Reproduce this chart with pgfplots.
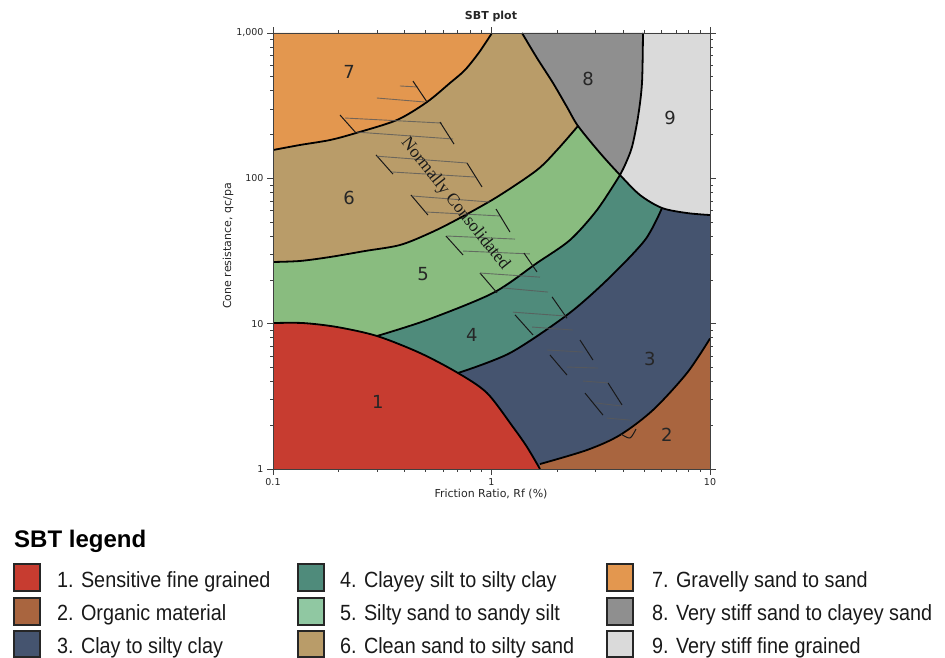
\documentclass[border=0pt]{standalone}
\usepackage{pgfplots}
\pgfplotsset{compat=1.18}
\usepackage{fontspec}
\setmainfont{DejaVu Sans}
\newfontfamily\legfont{Liberation Sans}[FakeStretch=0.9]
\newfontfamily\headfont{Liberation Sans}
\newfontfamily\serfont{Liberation Serif}

\definecolor{z1}{HTML}{C73C30}
\definecolor{z2}{HTML}{A9653F}
\definecolor{z3}{HTML}{45546F}
\definecolor{z4}{HTML}{4F8B7B}
\definecolor{z5}{HTML}{89BC7F}
\definecolor{z5l}{HTML}{90C8A2}
\definecolor{z6}{HTML}{B99C69}
\definecolor{z7}{HTML}{E3974F}
\definecolor{z8}{HTML}{8F8F8F}
\definecolor{z9}{HTML}{DADADA}

\pgfplotsset{
  bnd/.style={black, line width=1.8pt, smooth},
  hh/.style={draw=black!65, opacity=0.8, line width=0.9pt},
  hd/.style={draw=black!90, line width=1pt},
}

\begin{document}
\begin{tikzpicture}
\path[use as bounding box] (0pt,0pt) rectangle (945pt,-658pt);
\begin{axis}[
  at={(273pt,-469pt)}, anchor=south west,
  scale only axis, width=437pt, height=436pt,
  xmode=log, ymode=log,
  xmin=0.1, xmax=10, ymin=1, ymax=1000,
  xtick={0.1,1,10}, xticklabels={0.1,1,10},
  ytick={1,10,100,1000}, yticklabels={1,10,100,{1,000}},
  minor xtick={0.2,0.3,0.4,0.5,0.6,0.7,0.8,0.9,2,3,4,5,6,7,8,9},
  minor ytick={2,3,4,5,6,7,8,9,20,30,40,50,60,70,80,90,200,300,400,500,600,700,800,900},
  tick align=outside,
  major tick length=6pt, minor tick length=3pt,
  tick style={black!75, line width=0.7pt},
  axis line style={black!75, line width=0.8pt},
  ticklabel style={font=\fontsize{9.5}{11}\selectfont, text=black!85},
  /pgf/number format/assume math mode=true,
  axis on top,
  no markers,
]
% ---- fills (painter order)
\addplot[fill=z6, draw=none] coordinates {(0.1,1)(10,1)(10,1000)(0.1,1000)};
\addplot[fill=z7, draw=none] coordinates {(0.1,156.6)(0.1329,169.6)(0.1824,183.5)(0.2398,205.0)(0.3694,252.0)(0.5068,335.1)(0.6457,452.9)(0.7563,556.5)(0.8800,740)(1.005,1000)(0.1,1000)};
\addplot[fill=z5, draw=none] coordinates {(0.1,26.57)(0.1329,27.0)(0.1824,28.75)(0.2637,31.62)(0.3813,34.77)(0.5232,42.05)(0.7026,52.5)(1.0597,74.4)(1.6151,114.1)(2.015,159.2)(2.488,229.2)(10,229.2)(10,1)(0.1,1)};
\addplot[fill=z4, draw=none] coordinates {(0.2992,8.225)(0.5068,10.6)(1.016,16.26)(1.6151,26.15)(2.287,37.64)(3.040,60.55)(3.874,105.4)(10,105.4)(10,1)(0.2992,1)};
\addplot[fill=z3, draw=none] coordinates {(0.7026,4.576)(1.215,6.283)(2.2155,11.47)(3.378,19.97)(5.04,37.64)(6.03,62.5)(10,62.5)(10,1)(0.7026,1)};
\addplot[fill=z2, draw=none] coordinates {(1.667,1.082)(2.736,1.351)(3.874,1.713)(5.484,2.546)(7.847,4.576)(10,7.9)(10,1)(1.667,1)};
\addplot[fill=z1, draw=none] coordinates {(0.1,10.1)(0.1372,10.1)(0.1963,9.484)(0.2992,8.225)(0.4709,6.283)(0.7026,4.576)(0.9537,3.334)(1.254,1.945)(1.454,1.417)(1.667,1)(0.1,1)};
\addplot[fill=z9, draw=none] coordinates {(1.379,1000)(1.6151,673)(1.912,452.9)(2.2155,309.6)(2.488,229.2)(3.138,149.4)(3.874,105.4)(4.781,76.8)(6.03,62.5)(7.847,57.7)(10,55.9)(10,1000)};
\addplot[fill=z8, draw=none] coordinates {(1.379,1000)(1.6151,673)(1.912,452.9)(2.2155,309.6)(2.488,229.2)(3.138,149.4)(3.874,105.4)(4.083,123.5)(4.395,164.3)(4.683,264.2)(4.884,452.9)(4.935,1000)};
% ---- boundaries
\addplot[bnd] coordinates {(0.1,156.6)(0.1329,169.6)(0.1824,183.5)(0.2398,205.0)(0.3694,252.0)(0.5068,335.1)(0.6457,452.9)(0.7563,556.5)(0.8800,740)(1.005,1000)};
\addplot[bnd] coordinates {(0.1,26.57)(0.1329,27.0)(0.1824,28.75)(0.2637,31.62)(0.3813,34.77)(0.5232,42.05)(0.7026,52.5)(1.0597,74.4)(1.6151,114.1)(2.015,159.2)(2.488,229.2)};
\addplot[bnd] coordinates {(1.379,1000)(1.6151,673)(1.912,452.9)(2.2155,309.6)(2.488,229.2)(3.138,149.4)(3.874,105.4)(4.781,76.8)(6.03,62.5)(7.847,57.7)(10,55.9)};
\addplot[bnd] coordinates {(4.935,1000)(4.884,452.9)(4.683,264.2)(4.395,164.3)(4.083,123.5)(3.874,105.4)};
\addplot[bnd] coordinates {(0.2992,8.225)(0.5068,10.6)(1.016,16.26)(1.6151,26.15)(2.287,37.64)(3.040,60.55)(3.874,105.4)};
\addplot[bnd] coordinates {(0.7026,4.576)(1.215,6.283)(2.2155,11.47)(3.378,19.97)(5.04,37.64)(6.03,62.5)};
\addplot[bnd] coordinates {(0.1,10.1)(0.1372,10.1)(0.1963,9.484)(0.2992,8.225)(0.4709,6.283)(0.7026,4.576)(0.9537,3.334)(1.254,1.945)(1.454,1.417)(1.667,1)};
\addplot[bnd] coordinates {(1.667,1.082)(2.736,1.351)(3.874,1.713)(5.484,2.546)(7.847,4.576)(10,7.9)};
% ---- normally consolidated hatch
\addplot[hh] coordinates {(0.381,432)(0.461,425)};
\addplot[hh] coordinates {(0.299,357)(0.496,335)};
\addplot[hd] coordinates {(0.437,467)(0.507,335)};
\addplot[hd] coordinates {(0.2025,273)(0.240,205)};
\addplot[hh] coordinates {(0.2136,260)(0.593,240)};
\addplot[hh] coordinates {(0.242,208)(0.667,186.5)};
\addplot[hd] coordinates {(0.581,244)(0.674,172)};
\addplot[hd] coordinates {(0.296,145)(0.354,107)};
\addplot[hh] coordinates {(0.299,142)(0.7725,127.5)};
\addplot[hh] coordinates {(0.350,110.6)(0.840,102.1)};
\addplot[hd] coordinates {(0.7725,127.5)(0.905,87.2)};
\addplot[hd] coordinates {(0.428,76.8)(0.512,55.9)};
\addplot[hh] coordinates {(0.433,75.6)(0.984,68.7)};
\addplot[hh] coordinates {(0.496,58.7)(1.094,55.1)};
\addplot[hd] coordinates {(1.049,61.5)(1.215,42.7)};
\addplot[hd] coordinates {(0.619,40.1)(0.741,29.7)};
\addplot[hh] coordinates {(0.625,40.1)(1.281,38.2)};
\addplot[hh] coordinates {(0.741,31.6)(1.500,30.2)};
\addplot[hd] coordinates {(1.408,30.6)(1.615,22.7)};
\addplot[hd] coordinates {(0.886,22.3)(1.060,16.3)};
\addplot[hh] coordinates {(0.886,22.3)(1.667,20.9)};
\addplot[hh] coordinates {(1.129,17.6)(1.814,16.5)};
\addplot[hd] coordinates {(1.892,15.3)(2.216,10.9)};
\addplot[hd] coordinates {(1.281,11.5)(1.549,8.36)};
\addplot[hh] coordinates {(1.254,12.0)(2.170,11.3)};
\addplot[hh] coordinates {(1.533,9.48)(2.361,9.04)};
\addplot[hd] coordinates {(2.541,7.72)(2.914,5.62)};
\addplot[hd] coordinates {(1.852,6.09)(2.216,4.43)};
\addplot[hh] coordinates {(1.795,6.59)(2.623,6.38)};
\addplot[hh] coordinates {(2.216,5.03)(3.072,4.95)};
\addplot[hd] coordinates {(3.414,3.91)(3.957,2.76)};
\addplot[hd] coordinates {(2.679,3.33)(3.238,2.35)};
\addplot[hh] coordinates {(2.623,4.03)(3.414,3.91)};
\addplot[hh] coordinates {(2.976,2.85)(3.957,2.71)};
\addplot[hh] coordinates {(3.378,2.24)(4.304,2.17)};
\addplot[hd, smooth] coordinates {(3.915,1.741)(4.304,1.634)(4.584,1.884)};
% ---- zone numbers
\begin{scope}[every node/.style={font=\fontsize{18}{20}\selectfont, text=black!85}]
\node at (axis cs:0.223,540) {7};
\node at (axis cs:2.765,483) {8};
\node at (axis cs:6.56,260) {9};
\node at (axis cs:0.223,73.3) {6};
\node at (axis cs:0.486,22.0) {5};
\node at (axis cs:0.814,8.36) {4};
\node at (axis cs:5.31,5.72) {3};
\node at (axis cs:0.302,2.89) {1};
\node at (axis cs:6.35,1.71) {2};
\end{scope}
\node[font=\serfont\fontsize{17.5}{19}\selectfont, rotate=-51.5, text=black!90] at (axis cs:0.681,66.6) {Normally Consolidated};
\end{axis}
% ---- titles and labels
\node[font=\bfseries\fontsize{11}{13}\selectfont, text=black!85] at (491pt,-16pt) {SBT plot};
\node[font=\fontsize{11}{13}\selectfont, text=black!85] at (491pt,-494pt) {Friction Ratio, Rf (\%)};
\node[font=\fontsize{11}{13}\selectfont, text=black!85, rotate=90] at (228pt,-246pt) {Cone resistance, qc/pa};
% ---- legend
\node[font=\headfont\bfseries\fontsize{24}{28}\selectfont, anchor=base west, inner sep=0pt] at (14pt,-547pt) {SBT legend};
\begin{scope}[every node/.style={font=\legfont\fontsize{22}{24}\selectfont, anchor=base west, inner sep=0pt, text=black!90}]
\filldraw[fill=z1, draw=black!85, line width=1.4pt] (14pt,-564pt) rectangle (40pt,-591pt);
\node at (57pt,-587pt) {1. Sensitive fine grained};
\filldraw[fill=z2, draw=black!85, line width=1.4pt] (14pt,-598pt) rectangle (40pt,-625pt);
\node at (57pt,-620pt) {2. Organic material};
\filldraw[fill=z3, draw=black!85, line width=1.4pt] (14pt,-631pt) rectangle (40pt,-657pt);
\node at (57pt,-653pt) {3. Clay to silty clay};
\filldraw[fill=z4, draw=black!85, line width=1.4pt] (298pt,-564pt) rectangle (324pt,-591pt);
\node at (340pt,-587pt) {4. Clayey silt to silty clay};
\filldraw[fill=z5l, draw=black!85, line width=1.4pt] (298pt,-598pt) rectangle (324pt,-625pt);
\node at (340pt,-620pt) {5. Silty sand to sandy silt};
\filldraw[fill=z6, draw=black!85, line width=1.4pt] (298pt,-631pt) rectangle (324pt,-657pt);
\node at (340pt,-653pt) {6. Clean sand to silty sand};
\filldraw[fill=z7, draw=black!85, line width=1.4pt] (607pt,-564pt) rectangle (633pt,-591pt);
\node at (652pt,-587pt) {7. Gravelly sand to sand};
\filldraw[fill=z8, draw=black!85, line width=1.4pt] (607pt,-598pt) rectangle (633pt,-625pt);
\node at (652pt,-620pt) {8. Very stiff sand to clayey sand};
\filldraw[fill=z9, draw=black!85, line width=1.4pt] (607pt,-631pt) rectangle (633pt,-657pt);
\node at (652pt,-653pt) {9. Very stiff fine grained};
\end{scope}
\end{tikzpicture}
\end{document}
